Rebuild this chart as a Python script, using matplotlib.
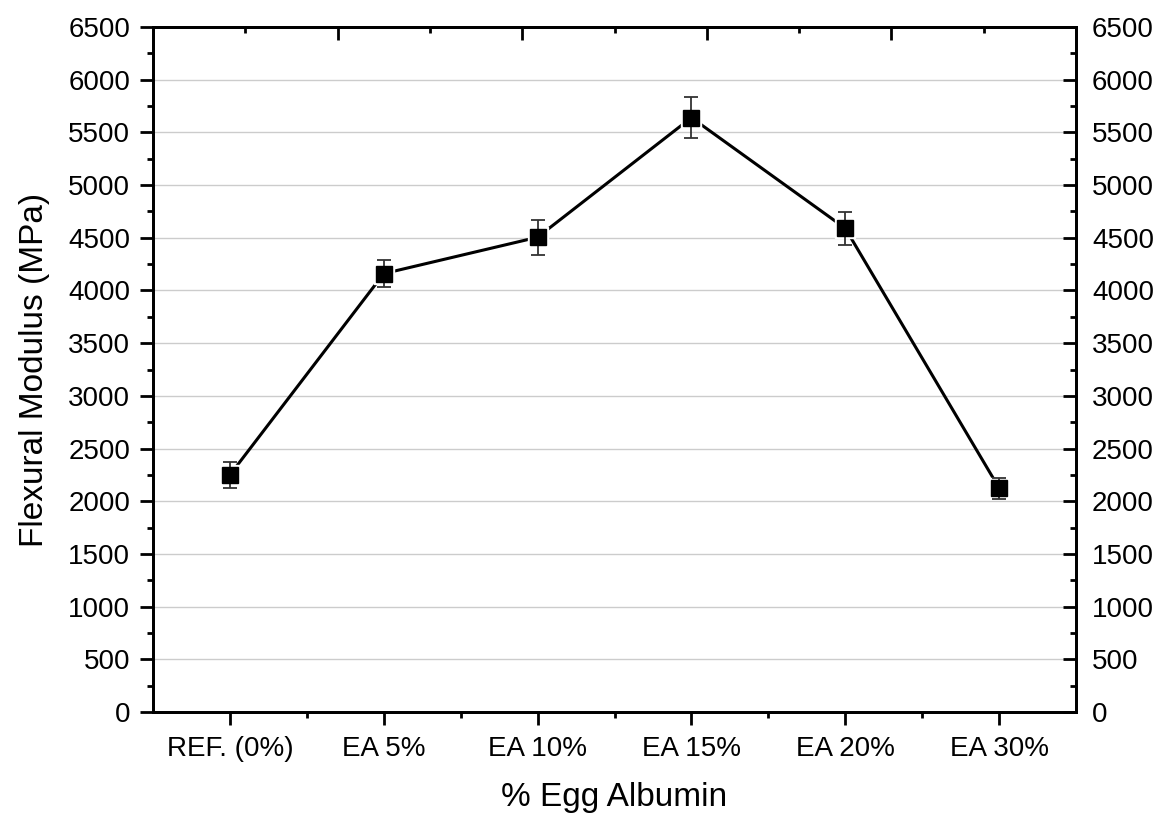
import matplotlib
matplotlib.use("Agg")
import matplotlib.pyplot as plt
from matplotlib.ticker import MultipleLocator, FixedLocator

categories = ["REF. (0%)", "EA 5%", "EA 10%", "EA 15%", "EA 20%", "EA 30%"]
modulus = [2250, 4160, 4505, 5640, 4590, 2125]
errors = [125, 125, 165, 195, 155, 100]

plt.rcParams['font.family'] = ['Liberation Sans', 'DejaVu Sans']

fig = plt.figure(figsize=(11.63, 8.17), dpi=100)
ax = fig.add_axes([153/1163, 1-712/817, (1076-153)/1163, (712-27)/817])

x = list(range(1, len(categories) + 1))
ax.plot(x, modulus, color='black', lw=2.2, zorder=2)
ax.plot(x, modulus, ls='none', marker='s', ms=15, mfc='white', mec='white', zorder=3)
ax.errorbar(x, modulus, yerr=errors, fmt='none', ecolor='#333333', elinewidth=1.3,
            capsize=4.7, capthick=1.3, zorder=4)
ax.plot(x, modulus, ls='none', marker='s', ms=11, mfc='black', mec='black', zorder=5)

ax.set_xlim(0.5, 6.5)
ax.set_ylim(0, 6500)
ax.set_xticks(x)
ax.set_xticklabels(categories)
ax.xaxis.set_minor_locator(FixedLocator([1.5, 2.5, 3.5, 4.5, 5.5]))
ax.yaxis.set_major_locator(MultipleLocator(500))
ax.yaxis.set_minor_locator(MultipleLocator(250))
ax.grid(axis='y', which='major', color='#cccccc', lw=1.0, zorder=0)
ax.set_axisbelow(True)

for s in ax.spines.values():
    s.set_linewidth(2)

ax.tick_params(axis='both', which='major', direction='out', length=9.5, width=2, labelsize=20)
ax.tick_params(axis='both', which='minor', direction='out', length=4.5, width=2)
ax.tick_params(axis='x', which='major', pad=8)
ax.tick_params(axis='y', which='major', pad=7)

ax2 = ax.twinx()
ax2.set_ylim(0, 6500)
ax2.yaxis.set_major_locator(MultipleLocator(500))
ax2.yaxis.set_minor_locator(MultipleLocator(250))
ax2.tick_params(axis='y', which='major', direction='in', length=9.5, width=2, labelsize=20, pad=11.5)
ax2.tick_params(axis='y', which='minor', direction='in', length=4.5, width=2)
for s in ax2.spines.values():
    s.set_linewidth(2)

# top axis: inward ticks dividing the width into five intervals
top_major = [1.7, 2.9, 4.1, 5.3]
top_minor = [1.1, 2.3, 3.5, 4.7, 5.9]
ax3 = ax.secondary_xaxis('top')
ax3.set_xticks(top_major)
ax3.set_xticklabels([])
ax3.xaxis.set_minor_locator(FixedLocator(top_minor))
ax3.tick_params(axis='x', which='major', direction='in', length=9.5, width=2)
ax3.tick_params(axis='x', which='minor', direction='in', length=4.5, width=2)
ax3.spines['top'].set_linewidth(2)
ax.tick_params(axis='x', which='both', top=False)

ax.set_xlabel("% Egg Albumin", fontsize=24, labelpad=14)
ax.set_ylabel("Flexural Modulus (MPa)", fontsize=24, labelpad=13)

fig.savefig("out.png", dpi=100)
